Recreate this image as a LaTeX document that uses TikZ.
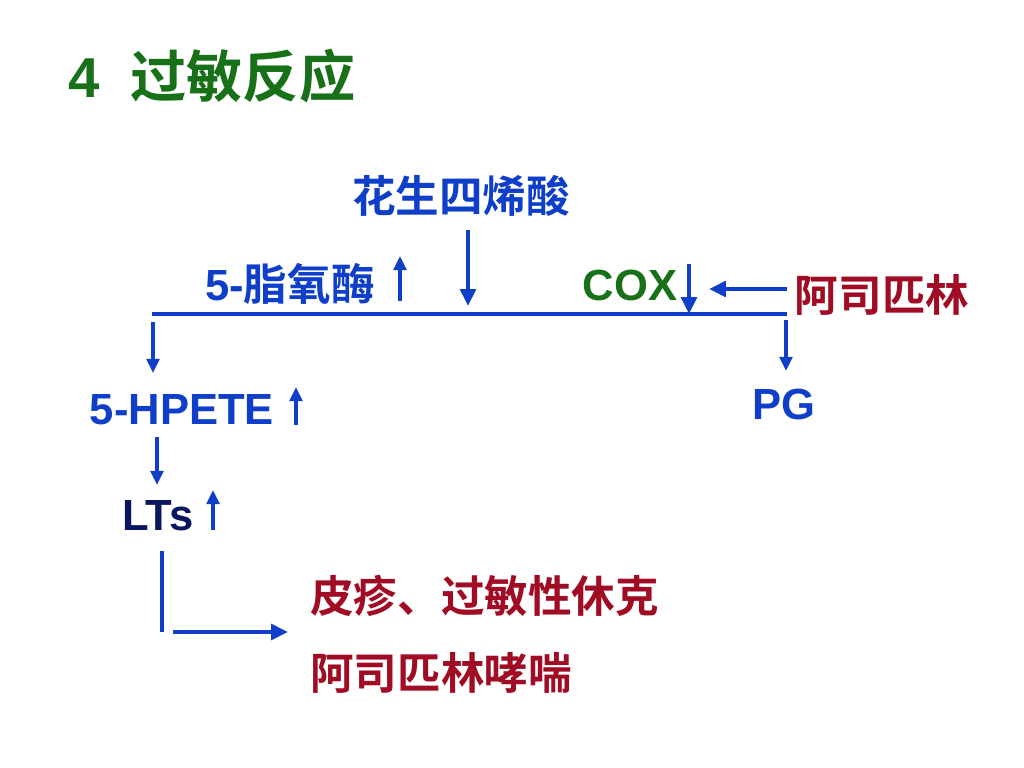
\documentclass[tikz,border=0pt]{standalone}
\usepackage{fontspec}
\setmainfont{Liberation Sans}
\newfontfamily\cjk{Noto Sans CJK SC}[BoldFont={Noto Sans CJK SC Bold}]
\usepackage{tikz}
\usetikzlibrary{arrows.meta}
\definecolor{flowblue}{HTML}{0F3FC8}
\definecolor{titlegreen}{HTML}{187018}
\definecolor{drugred}{HTML}{A00C24}
\definecolor{navy}{HTML}{0B1660}
\tikzset{
  flow/.style={draw=flowblue, line width=2.2pt},
  flowarr/.style={draw=flowblue, line width=2.2pt, -{Triangle[length=10pt,width=9pt]}},
  bigarr/.style={draw=flowblue, line width=2.8pt, -{Triangle[length=12pt,width=11pt]}},
  upmark/.style={draw=flowblue, line width=2.8pt, -{Triangle[length=10pt,width=9pt]}},
  lab/.style={text=flowblue, font=\fontsize{31}{31}\selectfont\bfseries, inner sep=0pt},
  redlab/.style={lab, text=drugred},
}

\begin{document}
\begin{tikzpicture}[x=0.025cm,y=-0.025cm]
  \useasboundingbox (0,0) rectangle (1024,768);

  % title
  \node[lab, text=titlegreen, font=\fontsize{40}{40}\selectfont\bfseries, anchor=west] (title) at (68,76) {4\hspace{0.55em}{\cjk 过敏反应}};

  % substrate and enzymes
  \node[lab] (aa) at (461,196) {\cjk 花生四烯酸};
  \node[lab] (lox) at (290,284) {5-{\cjk 脂氧酶}};
  \node[lab, text=titlegreen] (cox) at (630,285) {COX};
  \node[redlab] (asp) at (882,295) {\cjk 阿司匹林};

  % products
  \node[lab] (hpete) at (182,410) {5-HPETE};
  \node[lab] (pg) at (784,404) {PG};
  \node[lab, text=navy] (lts) at (158,516) {LTs};
  \node[redlab, anchor=west] (shock) at (310,596) {\cjk 皮疹、过敏性休克};
  \node[redlab, anchor=west] (asthma) at (310,673) {\cjk 阿司匹林哮喘};

  % branch line
  \coordinate (bl) at (152,314);
  \coordinate (br) at (787,314);
  \draw[flow] (bl) -- (br);
  \draw[bigarr] (468,230) -- (468,306);
  \draw[flowarr] (153,322) -- (153,373);
  \draw[flowarr] (786,320) -- (786,371);

  % aspirin blocks COX
  \coordinate (coxhit) at (689,314);
  \coordinate (aspfrom) at (787,289);
  \draw[bigarr] (689,264) -- (coxhit);
  \draw[bigarr] (aspfrom) -- (709,289);

  % up marks
  \draw[upmark] (400,301) -- (400,256);
  \draw[upmark] (296,425) -- (296,387);
  \draw[upmark] (213,530) -- (213,490);

  % LTs chain
  \draw[flowarr] (157,437) -- (157,485);
  \coordinate (corner) at (162,632);
  \draw[flow] (162,551) -- (corner);
  \draw[bigarr] (173,632) -- (288,632);
\end{tikzpicture}
\end{document}
